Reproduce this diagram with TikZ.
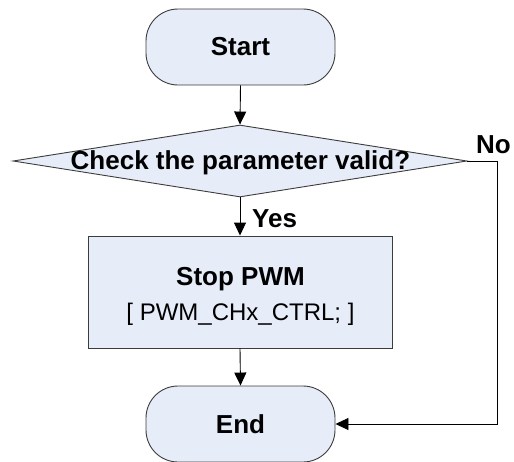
\documentclass[tikz,border=0pt]{standalone}
\usepackage{fontspec}
\setmainfont{Liberation Sans}
\usetikzlibrary{shapes.geometric,arrows.meta}
\definecolor{boxfill}{RGB}{230,236,248}
\definecolor{boxline}{RGB}{60,60,60}
\begin{document}
\begin{tikzpicture}[x=1pt,y=-1pt,
  terminal/.style={draw=boxline,fill=boxfill,line width=0.9pt,rectangle,rounded corners=32pt,
    minimum width=189pt,minimum height=76pt,inner sep=0pt,
    font=\fontsize{26}{31}\selectfont\bfseries},
  decision/.style={draw=boxline,fill=boxfill,line width=0.9pt,diamond,
    minimum width=454pt,minimum height=72pt,inner sep=0pt},
  process/.style={draw=boxline,fill=boxfill,line width=0.9pt,rectangle,
    minimum width=304pt,minimum height=112pt,inner sep=0pt},
  boldtext/.style={inner sep=0pt,font=\fontsize{26}{31}\selectfont\bfseries},
  plaintext/.style={inner sep=0pt,font=\fontsize{24}{29}\selectfont},
  flow/.style={line width=0.9pt,-{Triangle[width=12pt,length=13pt]}}]
\useasboundingbox (0,0) rectangle (514,461);

% shapes
\node[terminal] (start) at (240.5,47) {Start};
\node[decision] (check) at (240,161) {};
\node[boldtext,anchor=base] (checktext) at (240.5,169) {Check the parameter valid?};
\node[process] (stop) at (240,292) {};
\node[boldtext,anchor=base] (stoptitle) at (240.5,285) {Stop PWM};
\node[plaintext,anchor=base] (stopcode) at (240.5,320) {[ PWM\_CHx\_CTRL; ]};
\node[terminal] (end) at (240.5,424) {End};

% branch labels
\node[boldtext,anchor=base west] (yes) at (252,227) {Yes};
\node[boldtext,anchor=base west] (no) at (476,153) {No};

% connectors
\coordinate (noturn) at (497,161);
\coordinate (nodown) at (497,424);
\draw[flow] (start.south) -- (check.north);
\draw[flow] (check.south) -- (stop.north);
\draw[flow] (stop.south) -- (end.north);
\draw[flow] (check.east) -- (noturn) -- (nodown) -- (end.east);
\end{tikzpicture}
\end{document}
